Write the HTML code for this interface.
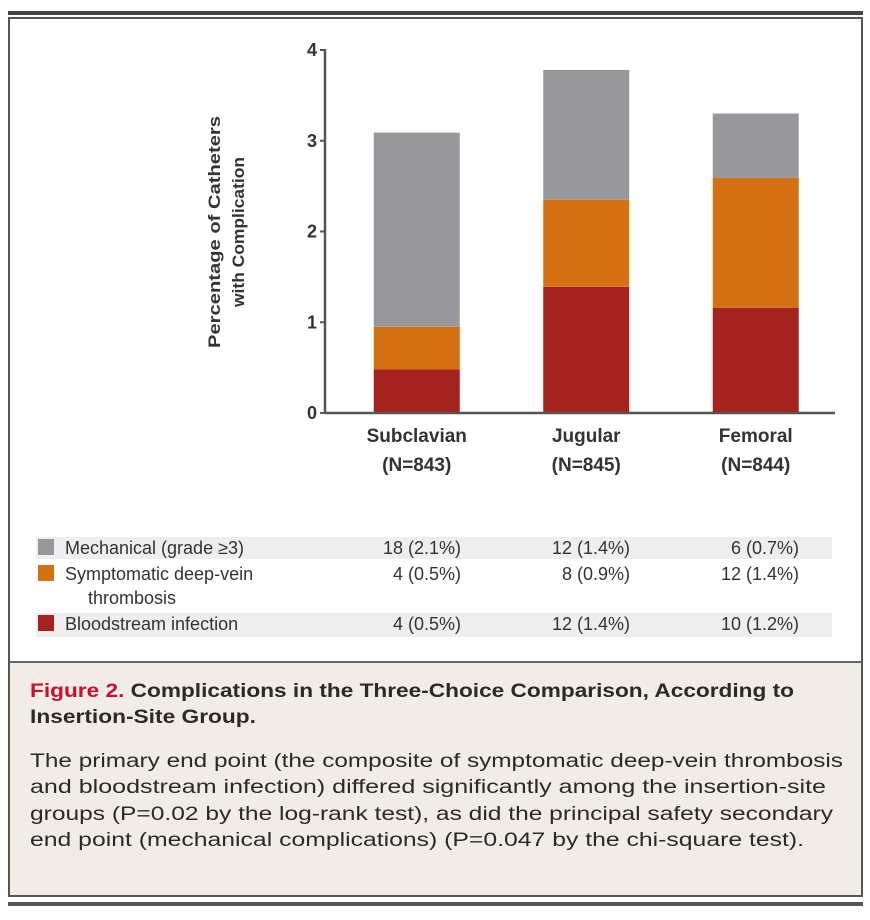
<!DOCTYPE html>
<html><head><meta charset="utf-8"><style>
html,body{margin:0;padding:0;background:#fff;}
svg{display:block;font-family:"Liberation Sans Narrow","Liberation Sans",sans-serif;}
</style></head><body>
<svg id="fig" width="870" height="920" viewBox="0 0 870 920">
  <rect x="8" y="11" width="855" height="4" fill="#444"/>
  <rect x="9" y="18" width="853" height="878" fill="#fff" stroke="#555" stroke-width="2"/>
  <rect x="10" y="662" width="851" height="233" fill="#f1ece6"/>
  <line x1="9" y1="662" x2="862" y2="662" stroke="#666" stroke-width="2"/>
  <rect x="8" y="902" width="855" height="4" fill="#555"/>

  <g id="yTitle" font-weight="bold" font-size="17" fill="#333" text-anchor="middle">
    <text transform="translate(220,232) rotate(-90)" textLength="232" lengthAdjust="spacingAndGlyphs">Percentage of Catheters</text>
    <text transform="translate(244,232) rotate(-90)" textLength="150" lengthAdjust="spacingAndGlyphs">with Complication</text>
  </g>
  <g id="bars"></g>
  <g id="axes"></g>

  <g id="table"></g>

  <g font-size="19" fill="#2a2a2a">
    <text x="30" y="697" font-weight="bold" textLength="764" lengthAdjust="spacingAndGlyphs"><tspan fill="#c8102e">Figure 2.</tspan> Complications in the Three-Choice Comparison, According to</text>
    <text x="30" y="723" font-weight="bold" textLength="226" lengthAdjust="spacingAndGlyphs">Insertion-Site Group.</text>
    <text x="30" y="767" textLength="813" lengthAdjust="spacingAndGlyphs">The primary end point (the composite of symptomatic deep-vein thrombosis</text>
    <text x="30" y="793" textLength="796" lengthAdjust="spacingAndGlyphs">and bloodstream infection) differed significantly among the insertion-site</text>
    <text x="30" y="820" textLength="803" lengthAdjust="spacingAndGlyphs">groups (P=0.02 by the log-rank test), as did the principal safety secondary</text>
    <text x="30" y="846" textLength="774" lengthAdjust="spacingAndGlyphs">end point (mechanical complications) (P=0.047 by the chi-square test).</text>
  </g>
</svg>
<script>
const categories = ["Subclavian", "Jugular", "Femoral"];
const nLabels = ["(N=843)", "(N=845)", "(N=844)"];
const bloodstream = [0.48, 1.39, 1.16];
const dvt = [0.47, 0.96, 1.43];
const mechanical = [2.14, 1.43, 0.71];
const yTicks = [0, 1, 2, 3, 4];
const seriesNames = ["Mechanical (grade \u22653)", "Symptomatic deep-vein", "Bloodstream infection"];
const mechCounts = ["18 (2.1%)", "12 (1.4%)", "6 (0.7%)"];
const dvtCounts = ["4 (0.5%)", "8 (0.9%)", "12 (1.4%)"];
const bloodCounts = ["4 (0.5%)", "12 (1.4%)", "10 (1.2%)"];

const NS = "http://www.w3.org/2000/svg";
const X0 = 325, Y0 = 413, YTOP = 50, YMAX = 4, XEND = 835;
const bandStart = 333, bandW = 169.5, barW = 86;
function y(v){ return Y0 - (v / YMAX) * (Y0 - YTOP); }
function xc(i){ return bandStart + bandW * i + bandW / 2 - 1; }
function mk(tag, attrs, parent){
  const e = document.createElementNS(NS, tag);
  for (const k in attrs) e.setAttribute(k, attrs[k]);
  parent.appendChild(e); return e;
}
const colors = {mech:"#98989c", dvt:"#d47113", blood:"#a6221e"};
const bars = document.getElementById("bars");
categories.forEach((c, i) => {
  const segs = [[bloodstream[i], colors.blood, "bloodstream"], [dvt[i], colors.dvt, "dvt"], [mechanical[i], colors.mech, "mechanical"]];
  let base = 0;
  segs.forEach(s => {
    const r = mk("rect", {x: xc(i) - barW / 2, y: y(base + s[0]), width: barW, height: y(base) - y(base + s[0]), fill: s[1]}, bars);
    
    
    base += s[0];
  });
});
const axes = document.getElementById("axes");
mk("line", {x1: X0, y1: YTOP - 1, x2: X0, y2: Y0, stroke: "#555", "stroke-width": 2.5}, axes);
mk("line", {x1: X0, y1: Y0, x2: XEND, y2: Y0, stroke: "#555", "stroke-width": 2.5}, axes);
yTicks.forEach(t => {
  mk("line", {x1: X0 - 5, y1: y(t), x2: X0, y2: y(t), stroke: "#555", "stroke-width": 2}, axes);
  const tx = mk("text", {x: X0 - 8, y: y(t) + 6, "text-anchor": "end", "font-size": 18, "font-weight": "bold", fill: "#333"}, axes);
  tx.textContent = t;
  
  
});
categories.forEach((c, i) => {
  const t1 = mk("text", {x: xc(i), y: 442, "text-anchor": "middle", "font-size": 19, "font-weight": "bold", fill: "#333"}, axes);
  t1.textContent = c;
  
  
  const t2 = mk("text", {x: xc(i), y: 471, "text-anchor": "middle", "font-size": 19, "font-weight": "bold", fill: "#333"}, axes);
  t2.textContent = nLabels[i];
  
  
});
const table = document.getElementById("table");
const rows = [
  {name: seriesNames[0], color: colors.mech, vals: mechCounts, y: 554, bg: [537, 22]},
  {name: seriesNames[1], color: colors.dvt, vals: dvtCounts, y: 580, bg: null},
  {name: seriesNames[2], color: colors.blood, vals: bloodCounts, y: 630, bg: [613, 24]}
];
const colRight = [461, 630, 799];
rows.forEach((r, ri) => {
  if (r.bg) {
    const b = mk("rect", {x: 36, y: r.bg[0], width: 796, height: r.bg[1], fill: "#eeeef1"}, table);
    
    
  }
  const sw = mk("rect", {x: 38, y: r.y - 15, width: 16, height: 16, fill: r.color}, table);
  
  
  const lt = mk("text", {x: 65, y: r.y, "font-size": 18, fill: "#333"}, table);
  lt.textContent = r.name;
  
  
  r.vals.forEach((v, ci) => {
    const vt = mk("text", {x: colRight[ci], y: r.y, "text-anchor": "end", "font-size": 18, fill: "#333"}, table);
    vt.textContent = v;
    
    
  });
});
const th = mk("text", {x: 88, y: 604, "font-size": 18, fill: "#333"}, table);
th.textContent = "thrombosis";


</script>
</body></html>
